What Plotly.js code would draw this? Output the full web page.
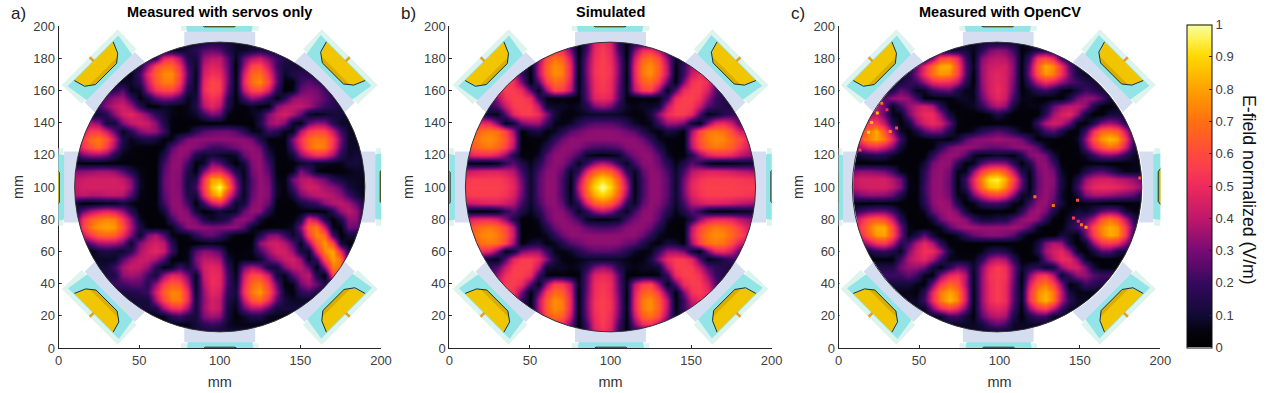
<!DOCTYPE html>
<html><head><meta charset="utf-8">
<script src="https://cdn.plot.ly/plotly-3.0.1.min.js"></script>
<style>html,body{margin:0;padding:0;background:#fff}#p{width:1269px;height:393px}</style></head>
<body><div id="p"></div>
<script>
const xA=[10,15,20,25,30,35,40,45,50,55,60,65,70,75,80,85,90,95,100,105,110,115,120,125,130,135,140,145,150,155,160,165,170,175,180,185,190];
const xB=xA;
const xC=[8.5,13.5,18.5,23.5,28.5,33.5,38.5,43.5,48.5,53.5,58.5,63.5,68.5,73.5,78.5,83.5,88.5,93.5,98.5,103.5,108.5,113.5,118.5,123.5,128.5,133.5,138.5,143.5,148.5,153.5,158.5,163.5,168.5,173.5,178.5,183.5,188.5];
const yRows=[190,185,180,175,170,165,160,155,150,145,140,135,130,125,120,115,110,105,100,95,90,85,80,75,70,65,60,55,50,45,40,35,30,25,20,15,10];
const axisTicks=[0,50,100,150,200];
const yTicks=[0,20,40,60,80,100,120,140,160,180,200];
const barTicks=[0,0.1,0.2,0.3,0.4,0.5,0.6,0.7,0.8,0.9,1];
const barLabels=["0","0.1","0.2","0.3","0.4","0.5","0.6","0.7","0.8","0.9","1"];
const titles=["Measured with servos only","Simulated","Measured with OpenCV"];
const tags=["a)","b)","c)"];
const barTitle="E-field normalized (V/m)";
// field in percent of the maximum, rows from y=190 down to y=10
const servos=[
[8,8,8,8,8,8,8,8,8,8,8,8,8,8,8,8,11,14,14,11,8,8,8,8,8,8,8,8,8,8,8,8,8,8,8,8,8],
[8,8,8,8,8,8,8,8,8,8,8,8,8,8,11,17,25,27,25,14,8,8,11,14,11,11,11,11,11,11,11,11,11,11,11,11,11],
[14,14,14,14,14,14,14,14,14,14,17,48,52,38,14,11,34,40,40,25,6,27,38,42,31,21,14,11,11,11,11,11,11,11,11,11,11],
[11,11,11,11,11,11,11,11,14,34,58,68,68,52,21,8,40,47,44,27,3,34,58,60,42,21,11,11,11,11,11,11,11,11,11,11,11],
[8,8,8,8,8,8,8,6,21,48,66,75,76,58,25,6,44,52,50,29,3,44,68,70,52,25,8,14,17,17,14,14,14,14,14,14,14],
[8,8,8,8,8,8,8,8,17,42,63,72,72,55,21,6,48,58,55,29,3,48,70,75,58,27,4,4,21,25,21,17,17,17,17,17,17],
[17,17,17,17,17,17,25,6,8,34,52,58,58,44,14,8,50,58,55,25,4,40,58,60,44,17,3,6,27,31,29,21,17,17,17,17,17],
[21,21,21,21,27,34,36,21,4,11,25,31,29,21,6,11,44,52,48,17,4,21,34,29,17,4,17,33,36,34,31,25,17,14,14,14,14],
[17,17,17,21,33,40,44,36,17,4,4,8,6,4,6,14,38,48,40,14,4,4,8,4,4,31,38,40,40,36,27,20,17,11,11,11,11],
[8,8,8,11,17,33,44,48,40,31,17,11,6,4,6,8,21,31,27,6,3,3,6,11,31,40,44,38,27,8,6,8,11,11,8,8,8],
[27,27,38,33,11,11,31,40,44,42,33,14,4,3,3,3,3,3,3,3,3,3,3,14,34,38,31,8,4,27,34,33,17,8,8,6,6],
[31,42,55,55,42,25,6,17,31,36,34,21,4,3,6,17,25,27,29,29,25,17,6,6,21,17,6,6,38,55,60,58,42,21,8,6,6],
[34,55,68,72,62,40,14,6,11,14,11,4,6,21,31,33,33,33,33,33,33,33,29,14,4,4,4,31,52,68,72,70,55,29,8,8,6],
[34,52,62,68,55,34,11,6,4,4,3,6,25,33,34,32,27,21,21,25,29,33,34,29,8,4,4,25,48,68,74,72,52,25,8,8,8],
[14,29,34,34,29,14,6,4,4,3,3,14,31,34,31,14,8,11,8,6,8,27,33,33,14,4,4,11,33,44,52,48,36,17,8,11,8],
[6,3,3,3,3,3,4,4,3,3,3,21,33,33,21,4,8,31,25,11,3,11,31,34,21,4,3,4,8,11,8,8,6,6,11,11,8],
[31,33,34,36,36,33,25,14,6,3,3,25,33,32,14,4,31,48,50,34,14,6,29,34,25,4,3,6,31,21,6,3,3,4,6,8,8],
[40,42,44,44,44,44,40,31,8,3,3,27,33,31,11,14,52,80,80,60,29,6,25,34,29,6,4,29,38,40,34,29,17,11,8,8,6],
[40,44,44,44,44,44,44,34,8,3,3,27,33,31,11,21,55,85,98,72,34,8,25,34,31,8,4,21,38,44,42,36,33,25,11,8,6],
[38,40,38,38,40,40,38,25,6,3,3,25,33,32,14,11,48,75,85,52,27,6,27,34,31,8,4,11,29,36,40,40,38,33,21,11,6],
[11,3,3,4,6,6,11,6,4,3,4,21,33,33,21,3,21,42,50,31,8,11,31,34,27,4,3,4,11,17,21,33,38,40,36,25,11],
[11,27,38,44,48,44,34,17,4,3,3,11,31,34,31,11,3,6,11,6,8,27,34,33,14,3,3,3,4,4,3,4,17,34,40,34,14],
[14,52,65,72,75,72,55,34,8,3,3,4,21,33,34,29,14,8,11,17,31,34,29,11,3,3,3,4,14,48,38,14,3,14,33,33,8],
[21,55,72,78,80,78,62,38,14,4,3,3,6,21,33,34,33,31,31,33,33,25,8,3,3,4,4,8,31,65,72,42,6,4,29,27,11],
[21,42,55,65,68,65,50,31,8,31,38,25,6,4,6,17,25,27,21,11,4,3,3,14,31,33,21,8,21,58,75,68,21,3,11,11,8],
[14,14,27,36,38,36,29,8,31,40,44,40,17,3,3,3,4,6,4,3,3,3,4,33,42,44,38,25,6,34,65,78,60,11,4,4,4],
[4,4,4,11,14,11,8,17,36,44,48,42,21,4,6,25,33,31,25,6,3,4,6,21,36,44,44,34,11,8,48,75,82,48,14,14,14],
[8,8,8,8,8,8,25,36,42,42,36,25,4,3,6,31,40,40,36,11,4,6,4,8,25,34,42,44,34,6,21,60,80,70,14,14,14],
[11,11,11,11,11,21,36,42,40,34,17,4,8,21,11,25,44,48,44,17,4,29,38,31,11,11,31,40,40,27,3,34,72,70,14,14,14],
[14,14,14,14,14,14,33,36,33,21,11,34,48,44,29,6,42,50,48,21,6,42,60,58,42,11,6,25,36,40,14,3,55,70,14,14,14],
[21,21,21,21,21,21,21,25,25,17,34,55,65,62,40,6,38,50,48,21,8,48,68,72,55,27,4,6,29,36,27,14,14,14,14,14,14],
[14,14,14,14,14,14,14,14,17,21,44,65,75,72,50,8,34,48,44,17,11,52,72,78,62,33,8,4,17,21,14,14,14,14,14,14,14],
[11,11,11,11,11,11,11,11,11,11,36,58,72,72,50,11,33,44,40,14,8,40,62,68,50,25,11,8,8,8,8,8,8,8,8,8,8],
[11,11,11,11,11,11,11,11,11,11,14,36,50,52,36,11,34,44,40,11,6,27,38,38,25,11,11,11,11,11,11,11,11,11,11,11,11],
[6,6,6,6,6,6,6,6,6,6,6,6,17,21,14,11,31,36,33,11,4,8,14,14,6,6,6,6,6,6,6,6,6,6,6,6,6],
[6,6,6,6,6,6,6,6,6,6,6,6,6,6,6,11,17,21,17,8,6,6,6,6,6,6,6,6,6,6,6,6,6,6,6,6,6],
[11,11,11,11,11,11,11,11,11,11,11,11,11,11,11,11,11,11,11,11,11,11,11,11,11,11,11,11,11,11,11,11,11,11,11,11,11]];
const simulated=[
[8,8,8,8,8,8,8,8,8,8,8,8,10,15,5,18,45,52,45,18,5,15,10,8,8,8,8,8,8,8,8,8,8,8,8,8,8],
[8,8,8,8,8,8,8,8,8,18,40,52,50,30,3,22,48,55,48,22,3,30,50,52,40,18,8,8,8,8,8,8,8,8,8,8,8],
[10,10,10,10,10,10,15,15,8,32,60,70,65,42,4,28,50,56,50,28,4,42,65,70,60,32,8,15,15,10,10,10,10,10,10,10,10],
[10,10,10,10,20,40,35,20,5,38,66,76,72,48,5,30,52,56,52,30,5,48,72,76,66,38,5,20,35,40,20,10,10,10,10,10,10],
[10,10,10,20,45,50,42,20,4,38,65,76,72,48,4,30,52,56,52,30,4,48,72,76,65,38,4,20,42,50,45,20,10,10,10,10,10],
[10,10,15,30,50,55,52,30,3,25,55,68,65,45,4,28,50,55,50,28,4,45,65,68,55,25,3,30,52,55,50,30,15,10,10,10,10],
[10,10,15,25,45,55,55,50,25,5,35,58,55,40,6,26,50,54,50,26,6,40,55,58,35,5,25,50,55,55,45,25,15,10,10,10,10],
[10,12,15,20,35,52,56,56,50,20,5,4,5,3,4,25,46,50,46,25,4,3,5,4,5,20,50,56,56,52,35,20,15,12,10,10,10],
[10,12,15,18,25,42,55,56,55,40,10,8,8,6,8,15,30,35,30,15,8,6,8,8,10,40,55,56,55,42,25,18,15,12,10,10,10],
[20,20,15,8,5,25,48,55,55,50,32,12,5,4,6,8,8,8,8,8,6,4,5,12,32,50,55,55,48,25,5,8,15,20,20,18,15],
[25,42,50,48,30,4,10,30,35,35,20,6,5,8,16,22,25,25,25,22,16,8,5,6,20,35,35,30,10,4,30,48,50,42,25,10,8],
[45,60,70,72,70,58,35,3,10,12,4,7,15,25,28,32,33,33,33,32,28,25,15,7,4,12,10,3,35,58,70,72,70,60,45,40,40],
[60,68,74,76,72,62,42,3,4,4,7,18,28,33,33,33,33,33,33,33,33,33,28,18,7,4,4,3,42,62,72,76,74,68,60,48,42],
[55,65,70,72,68,58,38,3,3,5,15,28,33,33,32,26,23,22,23,26,32,33,33,28,15,5,3,3,38,58,68,72,70,65,55,45,40],
[40,48,50,50,45,32,15,4,4,8,25,33,33,30,22,7,5,4,5,7,22,30,33,33,25,8,4,4,15,32,45,50,50,48,40,35,30],
[6,4,3,3,6,18,25,14,6,16,28,33,32,22,6,18,33,40,33,18,6,22,32,33,28,16,6,14,25,18,6,3,3,4,6,8,8],
[40,43,45,46,46,43,38,22,8,22,32,33,26,7,18,46,65,70,65,46,18,7,26,33,32,22,8,22,38,43,46,46,45,43,40,38,35],
[54,55,55,55,55,52,45,28,9,25,33,33,22,5,33,65,82,90,82,65,33,5,22,33,33,25,9,28,45,52,55,55,55,55,54,53,52],
[55,56,56,56,56,54,48,30,8,25,33,33,22,4,40,70,90,100,90,70,40,4,22,33,33,25,8,30,48,54,56,56,56,56,55,55,55],
[54,55,55,55,55,52,45,28,9,25,33,33,22,5,33,65,82,90,82,65,33,5,22,33,33,25,9,28,45,52,55,55,55,55,54,53,52],
[40,43,45,46,46,43,38,22,8,22,32,33,26,7,18,46,65,70,65,46,18,7,26,33,32,22,8,22,38,43,46,46,45,43,40,38,35],
[6,4,3,3,6,18,25,14,6,16,28,33,32,22,6,18,33,40,33,18,6,22,32,33,28,16,6,14,25,18,6,3,3,4,6,8,8],
[40,48,50,50,45,32,15,4,4,8,25,33,33,30,22,7,5,4,5,7,22,30,33,33,25,8,4,4,15,32,45,50,50,48,40,35,30],
[55,65,70,72,68,58,38,3,3,5,15,28,33,33,32,26,23,22,23,26,32,33,33,28,15,5,3,3,38,58,68,72,70,65,55,45,40],
[60,68,74,76,72,62,42,3,4,4,7,18,28,33,33,33,33,33,33,33,33,33,28,18,7,4,4,3,42,62,72,76,74,68,60,48,42],
[45,60,70,72,70,58,35,3,10,12,4,7,15,25,28,32,33,33,33,32,28,25,15,7,4,12,10,3,35,58,70,72,70,60,45,40,40],
[25,42,50,48,30,4,10,30,35,35,20,6,5,8,16,22,25,25,25,22,16,8,5,6,20,35,35,30,10,4,30,48,50,42,25,10,8],
[20,20,15,8,5,25,48,55,55,50,32,12,5,4,6,8,8,8,8,8,6,4,5,12,32,50,55,55,48,25,5,8,15,20,20,18,15],
[10,12,15,18,25,42,55,56,55,40,10,8,8,6,8,15,30,35,30,15,8,6,8,8,10,40,55,56,55,42,25,18,15,12,10,10,10],
[10,12,15,20,35,52,56,56,50,20,5,4,5,3,4,25,46,50,46,25,4,3,5,4,5,20,50,56,56,52,35,20,15,12,10,10,10],
[10,10,15,25,45,55,55,50,25,5,35,58,55,40,6,26,50,54,50,26,6,40,55,58,35,5,25,50,55,55,45,25,15,10,10,10,10],
[10,10,15,30,50,55,52,30,3,25,55,68,65,45,4,28,50,55,50,28,4,45,65,68,55,25,3,30,52,55,50,30,15,10,10,10,10],
[10,10,10,20,45,50,42,20,4,38,65,76,72,48,4,30,52,56,52,30,4,48,72,76,65,38,4,20,42,50,45,20,10,10,10,10,10],
[10,10,10,10,20,40,35,20,5,38,66,76,72,48,5,30,52,56,52,30,5,48,72,76,66,38,5,20,35,40,20,10,10,10,10,10,10],
[10,10,10,10,10,10,15,15,8,32,60,70,65,42,4,28,50,56,50,28,4,42,65,70,60,32,8,15,15,10,10,10,10,10,10,10,10],
[8,8,8,8,8,8,8,8,8,18,40,52,50,30,3,22,48,55,48,22,3,30,50,52,40,18,8,8,8,8,8,8,8,8,8,8,8],
[8,8,8,8,8,8,8,8,8,8,8,8,10,15,5,18,45,52,45,18,5,15,10,8,8,8,8,8,8,8,8,8,8,8,8,8,8]];
const opencv=[
[8,8,8,8,8,8,8,8,8,8,8,8,8,8,8,8,10,11,11,11,10,8,8,8,8,8,8,8,8,8,8,8,8,8,8,8,8],
[8,8,8,8,8,8,8,8,8,8,8,8,8,11,11,6,17,29,33,31,21,4,8,14,14,11,11,11,11,11,11,11,11,11,11,11,11],
[11,11,11,11,11,11,11,11,11,11,31,58,62,50,21,4,31,38,40,38,29,4,21,52,60,48,21,11,11,11,11,11,11,11,11,11,11],
[11,11,11,11,11,11,11,11,27,48,68,82,82,60,25,6,34,42,44,44,31,4,29,65,82,75,52,25,11,11,11,11,11,11,11,11,11],
[8,8,8,8,8,8,8,14,31,52,70,78,75,58,25,3,34,44,48,44,31,3,31,62,78,72,52,29,11,8,8,8,8,8,8,8,8],
[8,8,8,8,8,8,11,17,21,34,48,52,50,40,17,3,33,44,48,44,29,3,21,40,50,44,33,25,21,14,11,11,11,11,11,11,11],
[11,11,11,11,11,14,27,21,6,8,21,25,27,14,6,6,31,44,50,44,27,4,8,17,21,14,6,4,11,21,17,11,11,11,11,11,11],
[14,14,14,14,25,34,36,33,21,4,3,4,4,8,8,6,27,40,48,42,21,6,6,4,3,4,3,14,29,34,33,25,11,8,8,8,8],
[8,8,8,38,29,6,21,33,40,44,38,17,4,4,6,8,17,31,38,33,11,4,6,6,11,27,36,40,40,33,14,4,4,8,8,8,8],
[27,27,34,40,27,6,6,29,42,50,50,34,11,4,3,3,3,6,14,8,3,3,3,3,17,36,44,48,34,11,3,3,11,11,8,8,8],
[34,42,55,55,40,14,4,11,33,44,50,44,27,6,3,3,3,3,3,3,3,3,3,21,38,44,40,27,6,4,14,31,36,31,17,8,6],
[27,55,70,82,62,34,8,4,11,25,31,29,14,4,4,8,17,21,25,21,14,6,4,8,21,25,14,4,4,21,50,68,70,65,42,14,6],
[38,60,75,80,72,48,21,4,3,4,6,6,4,11,25,31,33,34,36,34,33,29,17,4,4,4,3,3,8,33,62,78,85,80,55,21,8],
[21,38,48,50,42,31,11,3,3,3,4,17,29,33,34,33,30,27,27,29,32,34,33,25,8,3,3,3,4,25,48,62,70,65,44,17,6],
[8,11,14,17,14,8,4,3,3,3,17,30,34,33,25,8,4,6,8,6,4,14,31,34,29,11,3,3,4,8,19,29,31,27,17,8,6],
[6,3,3,3,3,3,3,3,3,11,29,34,33,17,4,6,25,33,34,32,17,4,14,32,33,21,4,3,3,4,4,4,3,3,4,6,6],
[29,33,33,31,29,21,6,3,3,17,32,34,29,6,6,33,55,68,72,62,40,14,6,29,34,29,8,3,4,14,22,25,19,11,6,6,8],
[40,44,44,44,44,38,29,6,3,19,33,34,27,4,21,48,75,92,95,82,58,27,4,27,34,32,11,3,14,34,42,44,44,40,38,34,27],
[38,42,44,44,44,40,31,6,3,21,33,34,27,4,17,44,70,85,88,75,50,25,4,27,34,31,11,3,21,40,48,50,50,48,44,40,34],
[25,31,33,33,32,27,14,4,3,19,33,34,29,6,6,29,44,55,58,50,31,8,8,29,34,29,8,3,11,31,36,36,34,31,29,25,14],
[6,4,3,4,4,4,3,3,3,17,32,36,33,14,3,6,17,22,22,17,6,4,21,33,34,25,11,3,4,6,6,4,3,3,3,4,6],
[14,21,27,29,29,21,8,3,3,8,27,34,36,30,11,3,3,3,4,3,3,17,32,36,30,14,3,6,11,8,14,27,31,27,11,6,6],
[34,48,60,65,60,42,17,3,3,3,11,29,36,36,32,19,11,11,14,14,25,33,36,32,17,4,3,11,19,25,38,62,72,62,40,17,6],
[34,55,70,82,82,60,29,6,3,3,3,8,25,33,36,36,34,34,34,34,36,33,25,8,3,3,4,14,22,34,60,75,82,78,55,25,11],
[31,50,65,78,80,62,31,6,14,27,11,3,3,8,19,27,30,32,32,30,25,11,3,3,3,3,11,8,4,27,55,72,82,78,55,17,11],
[27,27,40,52,55,40,17,21,38,48,38,17,3,3,3,3,3,3,3,3,3,3,3,11,31,38,34,11,3,8,34,52,55,50,33,14,11],
[11,11,11,17,19,14,6,31,44,52,50,36,11,3,3,3,6,14,17,14,6,3,3,14,36,44,48,34,8,3,11,25,25,14,11,11,11],
[4,4,4,4,4,4,21,38,44,48,38,21,6,6,6,6,17,34,40,36,17,4,3,4,27,40,50,48,33,8,3,3,4,4,4,4,4],
[14,14,14,14,14,14,29,34,34,29,11,4,17,29,25,8,31,48,55,50,29,8,14,17,8,11,34,44,44,31,11,4,4,4,4,4,4],
[21,21,21,21,21,21,21,27,21,6,4,31,48,52,38,6,33,52,55,52,29,4,31,50,55,38,8,21,34,34,25,21,21,21,21,21,21],
[11,11,11,11,11,11,11,11,6,4,29,55,68,62,38,6,33,50,55,50,27,4,44,65,72,58,31,4,8,21,17,14,14,14,14,14,14],
[6,6,6,6,6,6,6,6,4,17,48,72,80,72,44,4,33,50,55,50,25,6,52,75,82,72,40,11,6,6,6,6,6,6,6,6,6],
[8,8,8,8,8,8,8,8,8,21,50,72,85,75,44,4,33,50,55,50,25,6,52,75,85,72,38,17,8,8,8,8,8,8,8,8,8],
[8,8,8,8,8,8,8,8,8,8,31,50,58,50,31,4,31,44,48,44,21,4,34,52,58,42,21,8,8,8,8,8,8,8,8,8,8],
[8,8,8,8,8,8,8,8,8,8,8,8,21,21,11,4,25,36,40,36,14,4,14,21,21,8,8,8,8,8,8,8,8,8,8,8,8],
[8,8,8,8,8,8,8,8,8,8,8,8,8,8,8,8,11,22,27,22,8,8,8,8,8,8,8,8,8,8,8,8,8,8,8,8,8],
[8,8,8,8,8,8,8,8,8,8,8,8,8,8,8,8,8,8,8,8,8,8,8,8,8,8,8,8,8,8,8,8,8,8,8,8,8]];
// isolated outlier readings in panel c
const spikeX=[122,133.5,148.5,153.8,151,146,149,187.3,24,26.8,20.5,16.4,18.5,32,36,13.2,30];
const spikeY=[94,88.5,91.7,75,76.6,80.7,78.7,105.6,146,152,140,129.5,134,134.4,136.6,123,148];
const spikeV=[0.7,0.7,0.6,0.8,0.7,0.55,0.5,0.65,0.85,0.7,0.85,0.7,0.9,0.75,0.6,0.6,0.5];

const fieldColors=[[0,"#000000"],[0.05,"#05030f"],[0.1,"#120a36"],[0.2,"#36095f"],[0.3,"#7a0b74"],[0.4,"#c0186a"],[0.5,"#ee2a5c"],[0.55,"#f93c50"],[0.6,"#ff4a3c"],[0.7,"#ff7010"],[0.8,"#ffa200"],[0.9,"#ffd800"],[0.95,"#fff04a"],[1,"#f6ffa8"]];

const W=1269,H=393;
const boxes=[[58.5,381],[449.3,771.7],[838.7,1160.3]];
const plotTop=26,plotBot=348;
const discs=[[100,100,90],[100,100,90],[98.5,100,90]];
const feed=[100,100,99.2];
const series=[servos,simulated,opencv];
const xs=[xA,xB,xC];

const data=[],shapes=[],annotations=[];
const layout={width:W,height:H,margin:{l:0,r:0,t:0,b:0,autoexpand:false},paper_bgcolor:"#fff",plot_bgcolor:"#fff",showlegend:false,
 font:{family:"Liberation Sans, Arial, sans-serif"}};

function pt(c,a,r,t){const th=a*Math.PI/180;return [c+r*Math.cos(th)-t*Math.sin(th),100+r*Math.sin(th)+t*Math.cos(th)];}
function pathOf(c,a,list,close){return list.map((p,i)=>{const q=pt(c,a,p[0],p[1]);return (i?"L":"M")+q[0].toFixed(2)+","+q[1].toFixed(2);}).join("")+(close?"Z":"");}

series.forEach((rows,i)=>{
 const n=i?String(i+1):"";
 const xk="x"+n,yk="y"+n;
 layout["xaxis"+n]={domain:[boxes[i][0]/W,boxes[i][1]/W],range:[0,200],anchor:yk,tickvals:axisTicks,ticks:"inside",ticklen:3,tickcolor:"#262626",
   showline:true,linecolor:"#262626",linewidth:1,zeroline:false,showgrid:false,tickfont:{size:13,color:"#404040"},
   title:{text:"mm",font:{size:14.5,color:"#333"},standoff:10}};
 layout["yaxis"+n]={domain:[1-plotBot/H,1-plotTop/H],range:[0,200],anchor:xk,tickvals:yTicks,ticks:"inside",ticklen:3,tickcolor:"#262626",
   showline:true,linecolor:"#262626",linewidth:1,zeroline:false,showgrid:false,tickfont:{size:13,color:"#404040"},
   title:{text:"mm",font:{size:14.5,color:"#333"},standoff:6}};
 const t={type:"heatmap",x:xs[i],y:yRows,z:rows.map(r=>r.map(v=>v/100)),xaxis:xk,yaxis:yk,zmin:0,zmax:1,zsmooth:"best",colorscale:fieldColors,showscale:i===2,hoverinfo:"skip"};
 if(i===2){t.colorbar={x:1187.3/W,xanchor:"left",y:1-24.5/H,yanchor:"top",lenmode:"pixels",len:322.5,thicknessmode:"pixels",thickness:25.4,
   outlinecolor:"#111",outlinewidth:1,xpad:0,ypad:0,ticks:"inside",ticklen:3,tickcolor:"#222",tickvals:barTicks,ticktext:barLabels,tickfont:{size:13,color:"#404040"}};}
 data.push(t);
 if(i===2)data.push({type:"scatter",mode:"markers",x:spikeX,y:spikeY,xaxis:xk,yaxis:yk,hoverinfo:"skip",
   marker:{symbol:"square",size:3,color:spikeV,cmin:0,cmax:1,colorscale:fieldColors,showscale:false,line:{width:0}}});
 const [cx,cy,R]=discs[i];
 let m=`M${cx-98},${cy-98}L${cx+98},${cy-98}L${cx+98},${cy+98}L${cx-98},${cy+98}Z`;
 for(let k=0;k<=180;k++){const th=k*2*Math.PI/180;m+=(k?"L":"M")+(cx+R*Math.cos(th)).toFixed(2)+","+(cy+R*Math.sin(th)).toFixed(2);}
 m+="Z";
 shapes.push({type:"path",xref:xk,yref:yk,path:m,fillcolor:"#fff",fillrule:"evenodd",line:{width:0},layer:"above"});
 const c=feed[i];
 [0,45,90,135,180,225,270,315].forEach(a=>{
  const add=(list,fill)=>shapes.push({type:"path",xref:xk,yref:yk,path:pathOf(c,a,list,true),fillcolor:fill,line:{width:0},layer:"above"});
  add([[97,-24],[114,-24.5],[114,24.5],[97,24]],"#dcf3ee");
  add([[95,-19.5],[111,-22],[111,22.5],[95,20]],"#93e4e7");
  const base=[];
  for(let s=-22;s<=22;s+=4)base.push([Math.sqrt(8100-s*s)+0.2,s]);
  base.push([96.5,22],[96.5,-22]);
  add(base,"#d4def0");
  add([[110.5,-17],[110.5,17],[103,14],[99.5,9.5],[99.5,-9],[103,-13.5]],"#f1c500");
  add([[102,-12],[102,12],[99.5,9.5],[99.5,-9]],"#d9ae00");
  shapes.push({type:"path",xref:xk,yref:yk,path:pathOf(c,a,[[110.5,17],[103.5,15],[99.5,9.5],[99.5,-9],[103.5,-14],[110.5,-17]],false),line:{color:"#17303a",width:1},layer:"above"});
  add([[110.5,-0.8],[114,-0.8],[114,0.8],[110.5,0.8]],"#e5a020");
 });
 shapes.push({type:"circle",xref:xk,yref:yk,x0:cx-R,x1:cx+R,y0:cy-R,y1:cy+R,line:{color:"#333",width:1},layer:"above"});
 annotations.push({xref:"paper",yref:"paper",x:(boxes[i][0]+boxes[i][1])/2/W,y:1-12/H,text:"<b>"+titles[i]+"</b>",showarrow:false,font:{size:14.5,color:"#000"},xanchor:"center",yanchor:"middle"});
 annotations.push({xref:"paper",yref:"paper",x:(boxes[i][0]-50)/W,y:1-13/H,text:tags[i],showarrow:false,font:{size:17,color:"#222"},xanchor:"left",yanchor:"middle"});
});
annotations.push({xref:"paper",yref:"paper",x:1249/W,y:1-190/H,text:barTitle,textangle:90,showarrow:false,font:{size:17.7,color:"#111"},xanchor:"center",yanchor:"middle"});
layout.shapes=shapes;layout.annotations=annotations;
Plotly.newPlot("p",data,layout,{displayModeBar:false,staticPlot:true});
</script></body></html>
